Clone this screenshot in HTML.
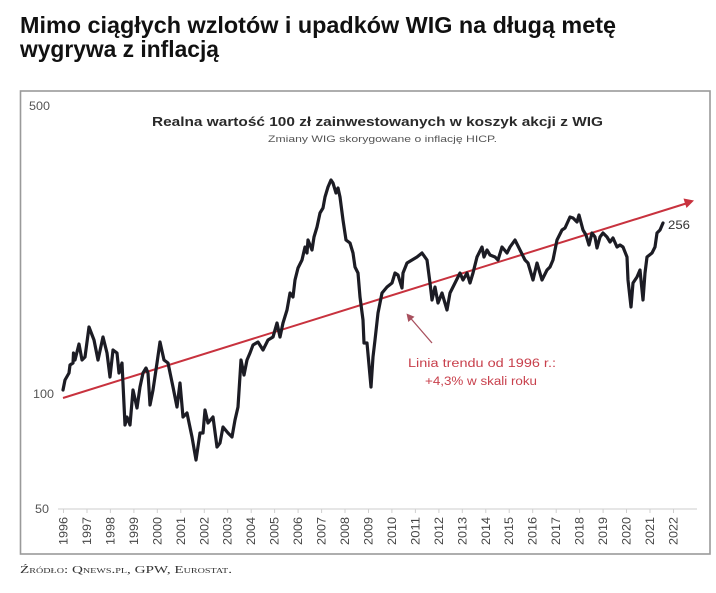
<!DOCTYPE html>
<html>
<head>
<meta charset="utf-8">
<style>
  html,body{margin:0;padding:0;background:#fff;}
  svg{display:block;}
  svg text{font-family:"Liberation Sans",sans-serif;}
  svg text.serif{font-family:"Liberation Serif",serif;font-variant:small-caps;}
</style>
</head>
<body>
<svg width="716" height="593" viewBox="0 0 716 593" xmlns="http://www.w3.org/2000/svg">
  <rect x="0" y="0" width="716" height="593" fill="#ffffff"/>
  <!-- Headline -->
  <text x="20" y="33" style="font-family:'Liberation Sans',sans-serif;font-weight:bold;font-size:23px" fill="#111" textLength="596" lengthAdjust="spacingAndGlyphs">Mimo ciągłych wzlotów i upadków WIG na długą metę</text>
  <text x="20" y="57" style="font-family:'Liberation Sans',sans-serif;font-weight:bold;font-size:23px" fill="#111" textLength="199" lengthAdjust="spacingAndGlyphs">wygrywa z inflacją</text>

  <!-- Frame -->
  <rect x="20.5" y="91" width="689.5" height="463" fill="#fff" stroke="#9a9a9a" stroke-width="1.6"/>

  <!-- Chart titles -->
  <text x="152" y="126" style="font-family:'Liberation Sans',sans-serif;font-weight:bold;font-size:13px" fill="#2a2a2a" textLength="451" lengthAdjust="spacingAndGlyphs">Realna wartość 100 zł zainwestowanych w koszyk akcji z WIG</text>
  <text x="268" y="142" style="font-family:'Liberation Sans',sans-serif;font-size:9.5px" fill="#555" textLength="229" lengthAdjust="spacingAndGlyphs">Zmiany WIG skorygowane o inflację HICP.</text>

  <!-- Y labels -->
  <g style="font-family:'Liberation Sans',sans-serif;font-size:12px" fill="#555">
    <text x="29" y="110" textLength="21" lengthAdjust="spacingAndGlyphs">500</text>
    <text x="33" y="398" textLength="21" lengthAdjust="spacingAndGlyphs">100</text>
    <text x="35" y="513" textLength="14" lengthAdjust="spacingAndGlyphs">50</text>
  </g>

  <!-- X axis -->
  <line x1="58" y1="509" x2="697" y2="509" stroke="#d8d8d8" stroke-width="1.2"/>
  <g stroke="#d0d0d0" stroke-width="1">
    <line x1="63.5" y1="509" x2="63.5" y2="513"/>
    <line x1="87" y1="509" x2="87" y2="513"/>
    <line x1="110.4" y1="509" x2="110.4" y2="513"/>
    <line x1="133.9" y1="509" x2="133.9" y2="513"/>
    <line x1="157.3" y1="509" x2="157.3" y2="513"/>
    <line x1="180.8" y1="509" x2="180.8" y2="513"/>
    <line x1="204.3" y1="509" x2="204.3" y2="513"/>
    <line x1="227.7" y1="509" x2="227.7" y2="513"/>
    <line x1="251.2" y1="509" x2="251.2" y2="513"/>
    <line x1="274.6" y1="509" x2="274.6" y2="513"/>
    <line x1="298.1" y1="509" x2="298.1" y2="513"/>
    <line x1="321.6" y1="509" x2="321.6" y2="513"/>
    <line x1="345" y1="509" x2="345" y2="513"/>
    <line x1="368.5" y1="509" x2="368.5" y2="513"/>
    <line x1="391.9" y1="509" x2="391.9" y2="513"/>
    <line x1="415.4" y1="509" x2="415.4" y2="513"/>
    <line x1="438.9" y1="509" x2="438.9" y2="513"/>
    <line x1="462.3" y1="509" x2="462.3" y2="513"/>
    <line x1="485.8" y1="509" x2="485.8" y2="513"/>
    <line x1="509.2" y1="509" x2="509.2" y2="513"/>
    <line x1="532.7" y1="509" x2="532.7" y2="513"/>
    <line x1="556.2" y1="509" x2="556.2" y2="513"/>
    <line x1="579.6" y1="509" x2="579.6" y2="513"/>
    <line x1="603.1" y1="509" x2="603.1" y2="513"/>
    <line x1="626.5" y1="509" x2="626.5" y2="513"/>
    <line x1="650" y1="509" x2="650" y2="513"/>
    <line x1="673.5" y1="509" x2="673.5" y2="513"/>
  </g>
  <g style="font-family:'Liberation Sans',sans-serif;font-size:12px" fill="#444">
    <text transform="translate(67.5,545) rotate(-90)" textLength="28" lengthAdjust="spacingAndGlyphs">1996</text>
    <text transform="translate(91,545) rotate(-90)" textLength="28" lengthAdjust="spacingAndGlyphs">1997</text>
    <text transform="translate(114.4,545) rotate(-90)" textLength="28" lengthAdjust="spacingAndGlyphs">1998</text>
    <text transform="translate(137.9,545) rotate(-90)" textLength="28" lengthAdjust="spacingAndGlyphs">1999</text>
    <text transform="translate(161.3,545) rotate(-90)" textLength="28" lengthAdjust="spacingAndGlyphs">2000</text>
    <text transform="translate(184.8,545) rotate(-90)" textLength="28" lengthAdjust="spacingAndGlyphs">2001</text>
    <text transform="translate(208.3,545) rotate(-90)" textLength="28" lengthAdjust="spacingAndGlyphs">2002</text>
    <text transform="translate(231.7,545) rotate(-90)" textLength="28" lengthAdjust="spacingAndGlyphs">2003</text>
    <text transform="translate(255.2,545) rotate(-90)" textLength="28" lengthAdjust="spacingAndGlyphs">2004</text>
    <text transform="translate(278.6,545) rotate(-90)" textLength="28" lengthAdjust="spacingAndGlyphs">2005</text>
    <text transform="translate(302.1,545) rotate(-90)" textLength="28" lengthAdjust="spacingAndGlyphs">2006</text>
    <text transform="translate(325.6,545) rotate(-90)" textLength="28" lengthAdjust="spacingAndGlyphs">2007</text>
    <text transform="translate(349,545) rotate(-90)" textLength="28" lengthAdjust="spacingAndGlyphs">2008</text>
    <text transform="translate(372.5,545) rotate(-90)" textLength="28" lengthAdjust="spacingAndGlyphs">2009</text>
    <text transform="translate(395.9,545) rotate(-90)" textLength="28" lengthAdjust="spacingAndGlyphs">2010</text>
    <text transform="translate(419.4,545) rotate(-90)" textLength="28" lengthAdjust="spacingAndGlyphs">2011</text>
    <text transform="translate(442.9,545) rotate(-90)" textLength="28" lengthAdjust="spacingAndGlyphs">2012</text>
    <text transform="translate(466.3,545) rotate(-90)" textLength="28" lengthAdjust="spacingAndGlyphs">2013</text>
    <text transform="translate(489.8,545) rotate(-90)" textLength="28" lengthAdjust="spacingAndGlyphs">2014</text>
    <text transform="translate(513.2,545) rotate(-90)" textLength="28" lengthAdjust="spacingAndGlyphs">2015</text>
    <text transform="translate(536.7,545) rotate(-90)" textLength="28" lengthAdjust="spacingAndGlyphs">2016</text>
    <text transform="translate(560.2,545) rotate(-90)" textLength="28" lengthAdjust="spacingAndGlyphs">2017</text>
    <text transform="translate(583.6,545) rotate(-90)" textLength="28" lengthAdjust="spacingAndGlyphs">2018</text>
    <text transform="translate(607.1,545) rotate(-90)" textLength="28" lengthAdjust="spacingAndGlyphs">2019</text>
    <text transform="translate(630.5,545) rotate(-90)" textLength="28" lengthAdjust="spacingAndGlyphs">2020</text>
    <text transform="translate(654,545) rotate(-90)" textLength="28" lengthAdjust="spacingAndGlyphs">2021</text>
    <text transform="translate(677.5,545) rotate(-90)" textLength="28" lengthAdjust="spacingAndGlyphs">2022</text>
  </g>

  <!-- Trend line -->
  <line x1="63" y1="398" x2="686" y2="203.5" stroke="#c8323e" stroke-width="2"/>
  <polygon points="694,200.5 683.5,198.5 686.5,208" fill="#c8323e"/>

  <!-- WIG series -->
  <polyline fill="none" stroke="#1c1c24" stroke-width="3.2" stroke-linejoin="round" stroke-linecap="round"
    points="63,390 65,380 69,373 70,365 73,363 73.5,353 75,360 77,352 79,344 82,360 85,357 89,327 94,340 98,360 103,337 107,353 110,377 113,350 117,353 119,373 122,363 125,425 127,417 130,425 133,390 137,408 140,387 143,373 146,368 148,373 150,405 153,390 157,363 160,342 164,360 168,363 173,387 177,407 180,383 183,417 187,413 192,437 196,460 200,433 203,433 205,410 208,423 213,417 217,447 220,443 223,427 228,433 232,437 235,420 238,407 241,360 244,375 247,360 250,353 253,345 258,342 263,350 268,340 273,337 277,323 280,337 283,323 287,310 290,293 293,297 295,280 298,268 302,260 305,247 307,253 308,240 312,250 314,237 317,227 320,213 323,208 325,197 328,187 331,180 333,183 336,193 338,188 340,197 343,220 346,240 350,243 353,253 355,267 358,273 360,297 363,320 364,343 367,343 371,387 373,357 375,340 378,313 382,293 387,287 392,283 395,273 398,275 402,288 403,273 407,263 412,260 417,257 422,253 427,260 430,283 432,300 435,287 438,303 442,293 447,310 450,293 455,283 460,273 463,280 467,273 470,283 473,273 477,257 482,247 484,257 487,250 490,255 495,257 498,260 502,247 507,253 510,247 515,240 520,250 525,260 528,263 533,280 537,263 542,280 547,270 550,267 553,260 557,240 562,230 565,228 570,217 573,218 577,222 579,215 583,230 586,235 589,245 592,233 595,237 597,248 600,237 603,233 607,237 610,242 613,238 617,247 620,245 623,247 627,257 628,280 631,307 633,283 637,277 640,270 643,300 645,273 647,257 652,253 655,247 657,233 660,230 663,223"/>

  <text x="668" y="229" style="font-family:'Liberation Sans',sans-serif;font-size:12px" fill="#333" textLength="22" lengthAdjust="spacingAndGlyphs">256</text>

  <!-- Annotation -->
  <line x1="432" y1="343" x2="410" y2="317.5" stroke="#a8505e" stroke-width="1.3"/>
  <polygon points="406.5,313.5 408.3,322 414.5,316.8" fill="#a8505e"/>
  <text x="408" y="367" style="font-family:'Liberation Sans',sans-serif;font-size:11.5px" fill="#c8404c" textLength="148" lengthAdjust="spacingAndGlyphs">Linia trendu od 1996 r.:</text>
  <text x="425" y="385" style="font-family:'Liberation Sans',sans-serif;font-size:11.5px" fill="#c8404c" textLength="112" lengthAdjust="spacingAndGlyphs">+4,3% w skali roku</text>

  <!-- Source -->
  <text class="serif" x="20" y="573" style="font-family:'Liberation Serif',serif;font-variant:small-caps;font-size:10.5px" fill="#333" textLength="212" lengthAdjust="spacingAndGlyphs">Źródło: Qnews.pl, GPW, Eurostat.</text>
</svg>
</body>
</html>
